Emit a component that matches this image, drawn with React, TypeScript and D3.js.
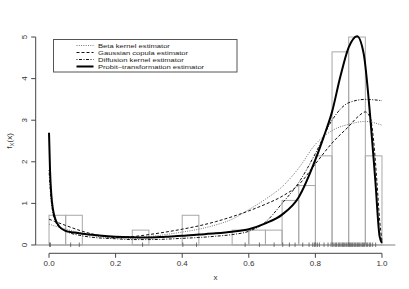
import React, { useEffect, useRef } from "react";
import * as d3 from "d3";

// observations (also drawn as a rug on y = 0)
const obs = [
  0.002, 0.004, 0.065, 0.091, 0.281, 0.402, 0.443, 0.589, 0.632, 0.676,
  0.702, 0.722, 0.739, 0.762, 0.781, 0.792, 0.797, 0.801, 0.806, 0.812,
  0.826, 0.838, 0.847, 0.852, 0.856, 0.861, 0.864, 0.869, 0.873, 0.877,
  0.881, 0.884, 0.888, 0.892, 0.895, 0.899, 0.902, 0.905, 0.909, 0.912,
  0.916, 0.919, 0.922, 0.926, 0.929, 0.933, 0.937, 0.941, 0.944, 0.948,
  0.953, 0.957, 0.962, 0.966, 0.972, 0.981,
];

const betaX = [0, 0.05, 0.1, 0.15, 0.2, 0.25, 0.3, 0.35, 0.4, 0.45, 0.5, 0.55, 0.6, 0.65, 0.7, 0.75, 0.8, 0.85, 0.9, 0.95, 1.0];
const betaY = [0.5, 0.38, 0.28, 0.2, 0.16, 0.16, 0.2, 0.25, 0.31, 0.38, 0.48, 0.62, 0.85, 1.1, 1.4, 1.85, 2.42, 2.75, 2.9, 2.97, 2.88];

const gaussX = [0, 0.05, 0.1, 0.15, 0.2, 0.25, 0.3, 0.35, 0.4, 0.45, 0.5, 0.55, 0.6, 0.65, 0.7, 0.75, 0.8, 0.85, 0.9, 0.93, 0.95, 0.965, 0.975, 0.985, 0.993, 1.0];
const gaussY = [0.62, 0.47, 0.33, 0.23, 0.18, 0.2, 0.25, 0.31, 0.38, 0.46, 0.56, 0.68, 0.82, 0.98, 1.17, 1.45, 1.95, 2.45, 2.85, 3.1, 3.2, 3.05, 2.5, 1.5, 0.6, 0.1];

const diffX = [0, 0.005, 0.01, 0.02, 0.035, 0.05, 0.1, 0.15, 0.2, 0.25, 0.3, 0.35, 0.4, 0.45, 0.5, 0.55, 0.6, 0.65, 0.7, 0.75, 0.8, 0.85, 0.9, 0.95, 1.0];
const diffY = [1.8, 1.2, 0.85, 0.55, 0.4, 0.33, 0.22, 0.17, 0.15, 0.13, 0.13, 0.14, 0.16, 0.18, 0.21, 0.25, 0.33, 0.55, 1.0, 1.5, 2.2, 3.0, 3.42, 3.5, 3.47];

const probitX = [0, 0.003, 0.007, 0.012, 0.02, 0.03, 0.05, 0.075, 0.1, 0.15, 0.2, 0.25, 0.3, 0.35, 0.4, 0.45, 0.5, 0.55, 0.6, 0.65, 0.7, 0.75, 0.8, 0.825, 0.85, 0.875, 0.9, 0.925, 0.945, 0.965, 0.98, 0.993, 1.0];
const probitY = [2.7, 1.8, 1.2, 0.85, 0.6, 0.45, 0.34, 0.3, 0.27, 0.23, 0.2, 0.185, 0.18, 0.2, 0.22, 0.25, 0.28, 0.32, 0.38, 0.52, 0.73, 1.15, 2.05, 2.6, 3.2, 4.05, 4.75, 5.02, 4.6, 3.05, 1.55, 0.2, 0.05];

const legendLabels = [
  "Beta kernel estimator",
  "Gaussian copula estimator",
  "Diffusion kernel estimator",
  "Probit\u2013transformation estimator",
];

const xTicks = [0, 0.2, 0.4, 0.6, 0.8, 1.0];
const yTicks = [0, 1, 2, 3, 4, 5];

const W = 409;
const H = 289;

export default function App() {
  const ref = useRef<SVGSVGElement>(null);

  useEffect(() => {
    document.body.style.margin = "0";
    const svg = d3.select(ref.current);
    svg.selectAll("*").remove();

    const x = d3.scaleLinear().domain([-0.04, 1.04]).range([35.7, 395.3]);
    const y = d3.scaleLinear().domain([-0.2, 5.2]).range([253.3, 28.7]);
    const font = "'Liberation Sans', Arial, sans-serif";

    // histogram
    const bins = d3.bin().domain([0, 1]).thresholds(d3.range(0, 1.0001, 0.05))(obs);
    svg.append("g")
      .selectAll("rect")
      .data(bins)
      .join("rect")
      .attr("x", (d) => x(d.x0!))
      .attr("width", (d) => x(d.x1!) - x(d.x0!))
      .attr("y", (d) => y(d.length / (obs.length * 0.05)))
      .attr("height", (d) => y(0) - y(d.length / (obs.length * 0.05)))
      .attr("fill", "none")
      .attr("stroke", "#a8a8a8")
      .attr("stroke-width", 1);

    // h = 0 line
    svg.append("line")
      .attr("x1", x(-0.04)).attr("x2", x(1.04))
      .attr("y1", y(0)).attr("y2", y(0))
      .attr("stroke", "#aaa").attr("stroke-width", 1.5);

    // rug
    svg.append("g")
      .selectAll("line")
      .data(obs)
      .join("line")
      .attr("x1", (d) => x(d)).attr("x2", (d) => x(d))
      .attr("y1", y(0) - 2.5).attr("y2", y(0) + 2)
      .attr("stroke", "#444").attr("stroke-width", 0.7);

    const series = [
      { xs: betaX, ys: betaY, dash: "1,1.3", w: 1, color: "#777" },
      { xs: gaussX, ys: gaussY, dash: "3,2", w: 1, color: "#111" },
      { xs: diffX, ys: diffY, dash: "1,1.5,3,1.5", w: 1, color: "#111" },
      { xs: probitX, ys: probitY, dash: null, w: 2, color: "#000" },
    ];

    const line = d3.line<[number, number]>()
      .x((d) => x(d[0]))
      .y((d) => y(d[1]))
      .curve(d3.curveMonotoneX);

    series.forEach((s) => {
      svg.append("path")
        .datum(s.xs.map((v, i) => [v, s.ys[i]] as [number, number]))
        .attr("fill", "none")
        .attr("stroke", s.color)
        .attr("stroke-width", s.w)
        .attr("stroke-dasharray", s.dash)
        .attr("d", line);
    });

    // x axis
    const xa = svg.append("g").attr("transform", `translate(0,${y(-0.2)})`);
    xa.append("line").attr("x1", x(0)).attr("x2", x(1)).attr("stroke", "#444");
    xTicks.forEach((t) => {
      xa.append("line").attr("x1", x(t)).attr("x2", x(t)).attr("y1", 0).attr("y2", 4.5).attr("stroke", "#444");
      xa.append("text").attr("x", x(t)).attr("y", 13).attr("text-anchor", "middle")
        .attr("font-family", font).attr("font-size", 8).attr("fill", "#333")
        .text(d3.format(".1f")(t));
    });
    svg.append("text").attr("x", x(0.5)).attr("y", 280).attr("text-anchor", "middle")
      .attr("font-family", font).attr("font-size", 8).attr("fill", "#333").text("x");

    // y axis
    const ya = svg.append("g").attr("transform", `translate(${x(-0.04)},0)`);
    ya.append("line").attr("y1", y(0)).attr("y2", y(5)).attr("stroke", "#444");
    yTicks.forEach((t) => {
      ya.append("line").attr("y1", y(t)).attr("y2", y(t)).attr("x1", 0).attr("x2", -4.5).attr("stroke", "#444");
      ya.append("text").attr("transform", `translate(-8.5,${y(t)}) rotate(-90)`)
        .attr("text-anchor", "middle").attr("font-family", font).attr("font-size", 8).attr("fill", "#333")
        .text(String(t));
    });
    const yl = svg.append("text").attr("transform", `translate(12,${y(2.5)}) rotate(-90)`)
      .attr("text-anchor", "middle").attr("font-family", font).attr("font-size", 8).attr("fill", "#333");
    yl.append("tspan").text("f");
    yl.append("tspan").attr("font-size", 6).attr("dy", 2).text("X");
    yl.append("tspan").attr("dy", -2).text("(x)");

    // legend
    const lg = svg.append("g");
    lg.append("rect").attr("x", 53.5).attr("y", 39.5).attr("width", 183.5).attr("height", 32.5)
      .attr("fill", "white").attr("stroke", "#555").attr("stroke-width", 1);
    legendLabels.forEach((lab, i) => {
      const yy = 45.5 + i * 7;
      const s = series[i];
      lg.append("line").attr("x1", 76.5).attr("x2", 93.5).attr("y1", yy).attr("y2", yy)
        .attr("stroke", s.color).attr("stroke-width", s.w).attr("stroke-dasharray", s.dash);
      lg.append("text").attr("transform", `translate(98,${yy}) scale(1.25,1)`).attr("dy", "0.35em")
        .attr("font-family", font).attr("font-size", 6.1).attr("fill", "#222").text(lab);
    });
  }, []);

  return (
    <svg ref={ref} width={W} height={H} style={{ position: "absolute", left: 0, top: 0, background: "white" }} />
  );
}
